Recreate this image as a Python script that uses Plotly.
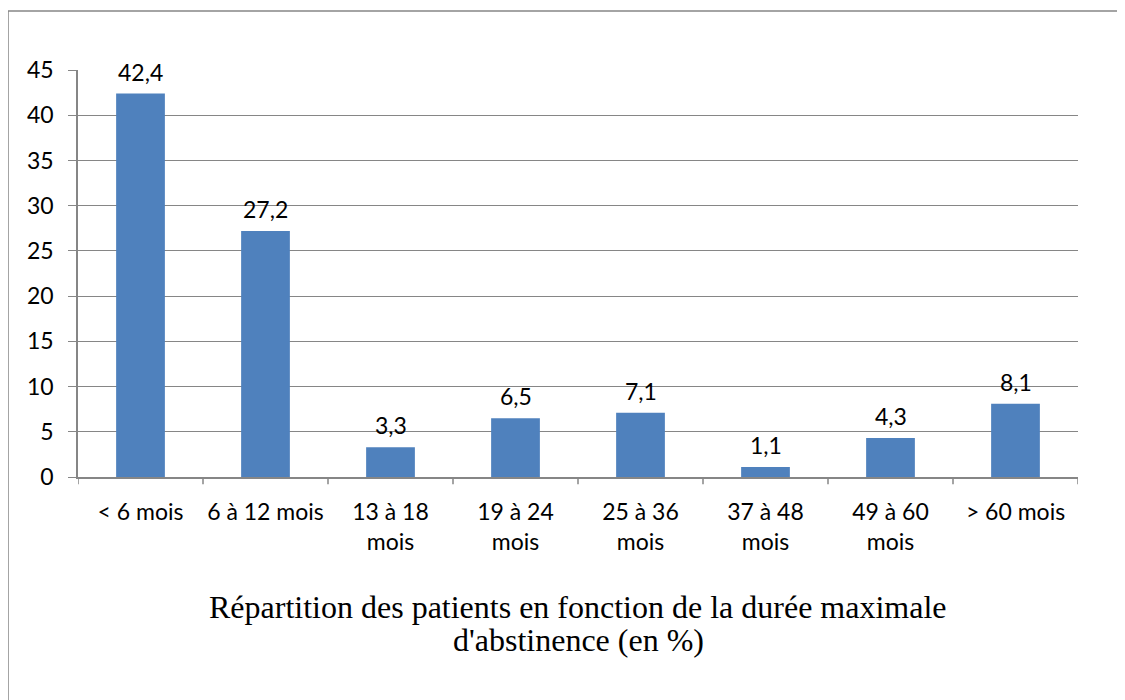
import plotly.graph_objects as go

categories = ["< 6 mois", "6 à 12 mois", "13 à 18<br>mois", "19 à 24<br>mois",
              "25 à 36<br>mois", "37 à 48<br>mois", "49 à 60<br>mois", "> 60 mois"]
values = [42.4, 27.2, 3.3, 6.5, 7.1, 1.1, 4.3, 8.1]
value_labels = ["42,4", "27,2", "3,3", "6,5", "7,1", "1,1", "4,3", "8,1"]
y_ticks = [0, 5, 10, 15, 20, 25, 30, 35, 40, 45]
title_lines = ["Répartition des patients en fonction de la durée maximale",
               "d'abstinence (en %)"]

label_font = dict(family="Lato, 'Open Sans', sans-serif", size=23, color="#000000")
grey = "#868686"

# page body has an 8px margin, so figure pixel = screen pixel - 8
fig = go.Figure()
fig.add_trace(go.Bar(x=list(range(len(categories))), y=values,
                     marker=dict(color="#4F81BD", line=dict(width=0)),
                     width=0.39, hoverinfo="skip"))

for i, (v, lab) in enumerate(zip(values, value_labels)):
    fig.add_annotation(x=i, y=v, text=lab, showarrow=False,
                       yanchor="bottom", yshift=6, font=label_font)

fig.update_xaxes(range=[-0.5, 7.5], tickmode="array",
                 tickvals=list(range(len(categories))), ticktext=categories,
                 showgrid=False, showline=True, linecolor=grey, linewidth=1.5,
                 ticks="", tickfont=label_font, zeroline=False,
                 ticklabelstandoff=14)
# tick marks between categories
for b in [i - 0.5 for i in range(len(categories) + 1)]:
    fig.add_shape(type="line", xref="x", yref="paper", x0=b, x1=b,
                  y0=0, y1=-0.018, line=dict(color=grey, width=1.5))

fig.update_yaxes(range=[0, 45], tickvals=y_ticks, showgrid=True,
                 gridcolor=grey, gridwidth=1.2, showline=True, linecolor=grey,
                 linewidth=1.5, ticks="outside", ticklen=8, tickcolor=grey,
                 tickwidth=1.2, tickfont=label_font, zeroline=False,
                 ticklabelstandoff=10)

# outer frame of the chart area
fig.add_shape(type="rect", xref="paper", yref="paper",
              x0=(0 - 70) / 1000, x1=(1140 - 70) / 1000,
              y0=(469 - 710) / 407, y1=(469 - 3) / 407,
              line=dict(color=grey, width=1.5), fillcolor="rgba(0,0,0,0)",
              layer="below")

for line, ypix in zip(title_lines, [599, 632]):
    fig.add_annotation(x=0.5, y=(469 - ypix) / 407, xref="paper", yref="paper",
                       text=line, showarrow=False, yanchor="middle",
                       font=dict(family="'Liberation Serif', 'Times New Roman', serif",
                                 size=32, color="#000000"))

fig.update_layout(width=1125, height=700, showlegend=False,
                  margin=dict(l=70, r=55, t=62, b=231),
                  plot_bgcolor="white", paper_bgcolor="white",
                  bargap=0.61)

fig.write_html("out.html")
